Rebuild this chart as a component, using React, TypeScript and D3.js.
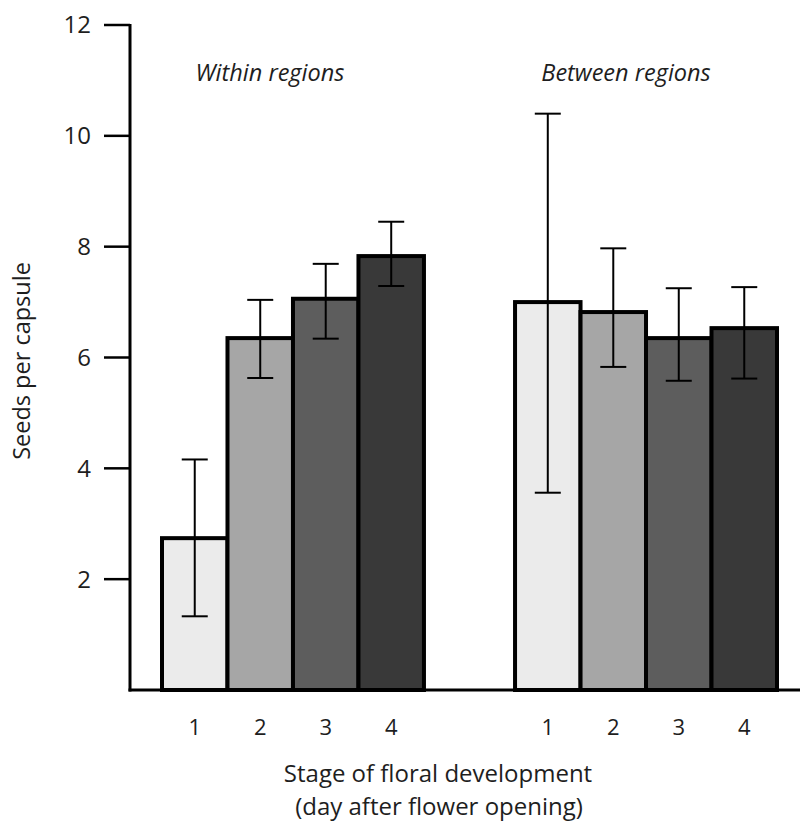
import React, { useEffect, useRef } from 'react';
import * as d3 from 'd3';

const groups = ['Within regions', 'Between regions'];
const stages = ['1', '2', '3', '4'];
const stageColors = ['#ebebeb', '#a6a6a6', '#5d5d5d', '#393939'];
const means = [
  [2.74, 6.35, 7.06, 7.83],
  [7.0, 6.82, 6.35, 6.53],
];
const errLow = [
  [1.33, 5.63, 6.34, 7.29],
  [3.56, 5.83, 5.58, 5.62],
];
const errHigh = [
  [4.16, 7.04, 7.69, 8.45],
  [10.4, 7.97, 7.25, 7.27],
];
const yTicks = [2, 4, 6, 8, 10, 12];

const FONT = '"Open Sans", "Noto Sans", sans-serif';

export default function App() {
  const svgRef = useRef<SVGSVGElement>(null);

  useEffect(() => {
    if (!svgRef.current) return;
    const svg = d3.select(svgRef.current);
    svg.selectAll('*').remove();

    const width = 803;
    const height = 827;
    svg.attr('width', width).attr('height', height);

    const axisX = 130;
    const baseY = 690;

    const y = d3.scaleLinear().domain([0, 12]).range([baseY, 25]);

    const xGroup = d3.scaleBand<string>()
      .domain(groups)
      .range([162, 777])
      .paddingInner(0.258)
      .paddingOuter(0);

    const xStage = d3.scaleBand<string>()
      .domain(stages)
      .range([0, xGroup.bandwidth()])
      .padding(0);

    const label = (sel: any, size: number) =>
      sel.attr('font-family', FONT).attr('font-size', size).attr('fill', '#1e1e1e');

    // bars
    groups.forEach((g, gi) => {
      const gx = xGroup(g)!;
      const gEl = svg.append('g').attr('transform', `translate(${gx},0)`);

      gEl.selectAll('rect')
        .data(stages)
        .enter()
        .append('rect')
        .attr('x', s => xStage(s)!)
        .attr('y', (s, i) => y(means[gi][i]))
        .attr('width', xStage.bandwidth())
        .attr('height', (s, i) => baseY - y(means[gi][i]))
        .attr('fill', (s, i) => stageColors[i])
        .attr('stroke', '#000')
        .attr('stroke-width', 4);

      // error bars
      stages.forEach((s, i) => {
        const cx = xStage(s)! + xStage.bandwidth() / 2;
        const cap = 13;
        gEl.append('line')
          .attr('x1', cx).attr('x2', cx)
          .attr('y1', y(errLow[gi][i])).attr('y2', y(errHigh[gi][i]))
          .attr('stroke', '#000').attr('stroke-width', 2);
        [errLow[gi][i], errHigh[gi][i]].forEach(v => {
          gEl.append('line')
            .attr('x1', cx - cap).attr('x2', cx + cap)
            .attr('y1', y(v)).attr('y2', y(v))
            .attr('stroke', '#000').attr('stroke-width', 2);
        });

        // stage label
        label(svg.append('text'), 22)
          .attr('x', gx + cx)
          .attr('y', 735)
          .attr('text-anchor', 'middle')
          .text(s);
      });

      // group label
      label(svg.append('text'), 23.5)
        .attr('x', gx + xGroup.bandwidth() / 2 + (gi === 0 ? -23 : -20))
        .attr('y', 81)
        .attr('text-anchor', 'middle')
        .attr('font-style', 'italic')
        .text(g);
    });

    // axes
    svg.append('line')
      .attr('x1', axisX).attr('x2', axisX)
      .attr('y1', y(12) - 1).attr('y2', baseY + 1.5)
      .attr('stroke', '#000').attr('stroke-width', 3);
    svg.append('line')
      .attr('x1', axisX - 1.5).attr('x2', 800)
      .attr('y1', baseY).attr('y2', baseY)
      .attr('stroke', '#000').attr('stroke-width', 3);

    yTicks.forEach(t => {
      svg.append('line')
        .attr('x1', axisX - 26).attr('x2', axisX)
        .attr('y1', y(t)).attr('y2', y(t))
        .attr('stroke', '#000').attr('stroke-width', 2.5);
      label(svg.append('text'), 24)
        .attr('x', 91)
        .attr('y', y(t))
        .attr('dy', '0.35em')
        .attr('text-anchor', 'end')
        .text(t);
    });

    // axis titles
    label(svg.append('text'), 23.5)
      .attr('transform', `translate(30, 361) rotate(-90)`)
      .attr('text-anchor', 'middle')
      .text('Seeds per capsule');

    label(svg.append('text'), 24)
      .attr('x', 438)
      .attr('y', 782)
      .attr('text-anchor', 'middle')
      .text('Stage of floral development');

    label(svg.append('text'), 24)
      .attr('x', 439)
      .attr('y', 815)
      .attr('text-anchor', 'middle')
      .text('(day after flower opening)');
  }, []);

  return (
    <div>
      <style>{`body { margin: 0; background: #fff; }`}</style>
      <svg ref={svgRef} style={{ display: 'block' }}></svg>
    </div>
  );
}
